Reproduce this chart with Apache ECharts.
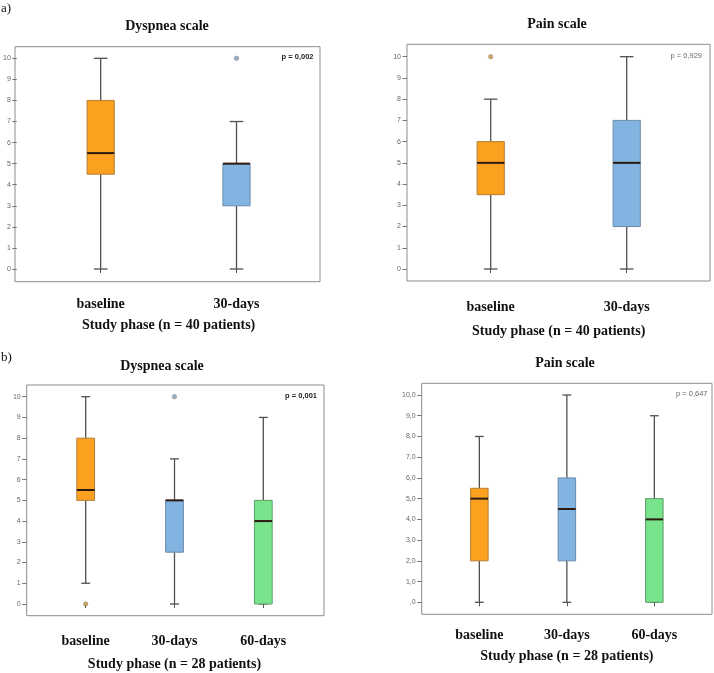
<!DOCTYPE html>
<html>
<head>
<meta charset="utf-8">
<script src="https://cdn.jsdelivr.net/npm/echarts@6/dist/echarts.min.js"></script>
<style>
html,body{margin:0;padding:0;background:#fff;}
#chart{width:714px;height:673px;}
</style>
</head>
<body>
<div id="chart"></div>
<script>
// ---- data (min, Q1, median, Q3, max) ----
const categories2 = ['baseline', '30-days'];
const categories3 = ['baseline', '30-days', '60-days'];
const dyspnea40 = [[0, 4.5, 5.5, 8, 10], [0, 3, 5, 5, 7]];
const dyspnea40Outliers = [[1, 10]];
const pain40 = [[0, 3.5, 5, 6, 8], [0, 2, 5, 7, 10]];
const pain40Outliers = [[0, 10]];
const dyspnea28 = [[1, 5, 5.5, 8, 10], [0, 2.5, 5, 5, 7], [0, 0, 4, 5, 9]];
const dyspnea28Outliers = [[0, 0], [1, 10]];
const pain28 = [[0, 2, 5, 5.5, 8], [0, 2, 4.5, 6, 10], [0, 0, 4, 5, 9]];
const pain28Outliers = [];
const panelTitles = ['Dyspnea scale', 'Pain scale', 'Dyspnea scale', 'Pain scale'];
const axisNames = ['Study phase (n = 40 patients)', 'Study phase (n = 40 patients)', 'Study phase (n = 28 patients)', 'Study phase (n = 28 patients)'];
const pValues = ['p = 0,002', 'p = 0,929', 'p = 0,001', 'p = 0,647'];
const yMin = 0, yMax = 10, yInterval = 1;

const boxFill = ['#FBA11F', '#83B3E1', '#79E48B'];
const boxStroke = ['#B47C34', '#6A8BAC', '#5C9E69'];
const outlierFill = ['#C4913F', '#7F9AB8', '#6FB57C'];
const serif = '"Liberation Serif", "Times New Roman", serif';
const sans = '"Liberation Sans", Arial, sans-serif';

// layout: frame rectangles and inner plotting rectangles
const frames = [
  {left: 15, top: 46.7, width: 305, height: 235},
  {left: 407, top: 44.3, width: 303, height: 236.7},
  {left: 26.7, top: 385, width: 297.3, height: 230.7},
  {left: 421.7, top: 383.3, width: 290.3, height: 231}
];
const inners = [
  {left: 31, top: 58.3, width: 273.4, height: 210.7},
  {left: 422.7, top: 56.7, width: 272, height: 212.3},
  {left: 41.3, top: 396.7, width: 266.4, height: 207.3},
  {left: 435.6, top: 395, width: 262.5, height: 207.3}
];
const panels = [
  {cats: categories2, boxes: dyspnea40, outliers: dyspnea40Outliers, bold: true, fmt: v => String(v)},
  {cats: categories2, boxes: pain40, outliers: pain40Outliers, bold: false, fmt: v => String(v)},
  {cats: categories3, boxes: dyspnea28, outliers: dyspnea28Outliers, bold: true, fmt: v => String(v)},
  {cats: categories3, boxes: pain28, outliers: pain28Outliers, bold: false, fmt: v => v === 0 ? ',0' : v.toFixed(1).replace('.', ',')}
];
const labelMargins = [15.5, 19, 19, 14];
const nameGaps = [37, 43.5, 41.5, 35.5];
const titlePos = [
  {x: 167, y: 25}, {x: 557, y: 23}, {x: 162, y: 365}, {x: 565, y: 362}
];
const pPos = [
  {right: 714 - 313.5, y: 58}, {right: 714 - 702, y: 57}, {right: 714 - 317, y: 396.7}, {right: 714 - 707.5, y: 395}
];

const grid = [], xAxis = [], yAxis = [], series = [], title = [];

frames.forEach(f => {
  grid.push(Object.assign({show: true, borderColor: '#8c8c8c', borderWidth: 1, backgroundColor: 'transparent', containLabel: false}, f));
});
inners.forEach(f => grid.push(Object.assign({show: false, containLabel: false}, f)));

frames.forEach((f, i) => {
  xAxis.push({gridIndex: i, type: 'value', show: false, min: 0, max: 1});
  yAxis.push({gridIndex: i, type: 'value', show: false, min: 0, max: 1});
});

panels.forEach((p, i) => {
  const fr = frames[i], inn = inners[i];
  const xOffset = (fr.top + fr.height) - (inn.top + inn.height);
  const yOffset = inn.left - fr.left;
  xAxis.push({
    gridIndex: 4 + i, type: 'category', data: p.cats, boundaryGap: true,
    offset: xOffset,
    axisLine: {show: false},
    axisTick: {show: true, alignWithLabel: true, length: 4, lineStyle: {color: '#555', width: 1}},
    axisLabel: {margin: labelMargins[i], color: '#111', fontFamily: serif, fontWeight: 'bold', fontSize: 14},
    name: axisNames[i], nameLocation: 'middle', nameGap: nameGaps[i],
    nameTextStyle: {color: '#111', fontFamily: serif, fontWeight: 'bold', fontSize: 14},
    splitLine: {show: false}
  });
  yAxis.push({
    gridIndex: 4 + i, type: 'value', min: yMin, max: yMax, interval: yInterval,
    offset: yOffset,
    axisLine: {show: false},
    axisTick: {show: true, length: 4.5, lineStyle: {color: '#777', width: 1}},
    axisLabel: {margin: 6, color: '#666', fontFamily: sans, fontSize: 7, formatter: p.fmt},
    splitLine: {show: false}
  });
  series.push({
    type: 'custom',
    xAxisIndex: 4 + i, yAxisIndex: 4 + i,
    clip: false,
    data: p.boxes.map((b, k) => [k].concat(b)),
    encode: {x: 0, y: [1, 2, 3, 4, 5]},
    renderItem: function (params, api) {
      const idx = api.value(0);
      const pMin = api.coord([idx, api.value(1)]);
      const pQ1 = api.coord([idx, api.value(2)]);
      const pMed = api.coord([idx, api.value(3)]);
      const pQ3 = api.coord([idx, api.value(4)]);
      const pMax = api.coord([idx, api.value(5)]);
      const band = api.size([1, 0])[0];
      const bw = band * 0.2, cw = band * 0.1;
      const cx = pMed[0];
      const wStyle = {stroke: '#505050', lineWidth: 1.3};
      const children = [];
      children.push({type: 'line', shape: {x1: cx, y1: pMax[1], x2: cx, y2: pQ3[1]}, style: wStyle});
      children.push({type: 'line', shape: {x1: cx, y1: pQ1[1], x2: cx, y2: pMin[1]}, style: wStyle});
      children.push({type: 'line', shape: {x1: cx - cw / 2, y1: pMax[1], x2: cx + cw / 2, y2: pMax[1]}, style: wStyle});
      children.push({type: 'line', shape: {x1: cx - cw / 2, y1: pMin[1], x2: cx + cw / 2, y2: pMin[1]}, style: wStyle});
      children.push({type: 'rect', shape: {x: cx - bw / 2, y: pQ3[1], width: bw, height: Math.max(pQ1[1] - pQ3[1], 0.5)},
        style: {fill: boxFill[idx], stroke: boxStroke[idx], lineWidth: 1}});
      children.push({type: 'line', shape: {x1: cx - bw / 2, y1: pMed[1], x2: cx + bw / 2, y2: pMed[1]}, style: {stroke: '#2a1a12', lineWidth: 2}});
      return {type: 'group', children: children};
    },
    z: 2
  });
  series.push({
    type: 'scatter',
    xAxisIndex: 4 + i, yAxisIndex: 4 + i,
    clip: false,
    symbol: 'circle', symbolSize: 4.5,
    data: p.outliers.map(o => ({value: o, itemStyle: {color: outlierFill[o[0]], borderColor: '#777', borderWidth: 0.5}})),
    z: 3
  });

  title.push({
    text: panelTitles[i], left: titlePos[i].x, top: titlePos[i].y - 6, textAlign: 'center',
    textStyle: {fontFamily: serif, fontWeight: 'bold', fontSize: 14, color: '#111'}
  });
  title.push({
    text: pValues[i], right: pPos[i].right, top: pPos[i].y - 5,
    textStyle: {fontFamily: sans, fontWeight: p.bold ? 'bold' : 'normal', fontSize: 7.5, color: p.bold ? '#222' : '#666'}
  });
});

title.push({text: 'a)', left: 1, top: 2, textStyle: {fontFamily: serif, fontWeight: 'normal', fontSize: 13, color: '#111'}});
title.push({text: 'b)', left: 1, top: 351, textStyle: {fontFamily: serif, fontWeight: 'normal', fontSize: 13, color: '#111'}});

const chart = echarts.init(document.getElementById('chart'), null, {renderer: 'canvas'});
chart.setOption({
  animation: false,
  backgroundColor: '#ffffff',
  title: title.map(t => Object.assign({padding: 0}, t)),
  grid: grid,
  xAxis: xAxis,
  yAxis: yAxis,
  series: series
});
</script>
</body>
</html>
